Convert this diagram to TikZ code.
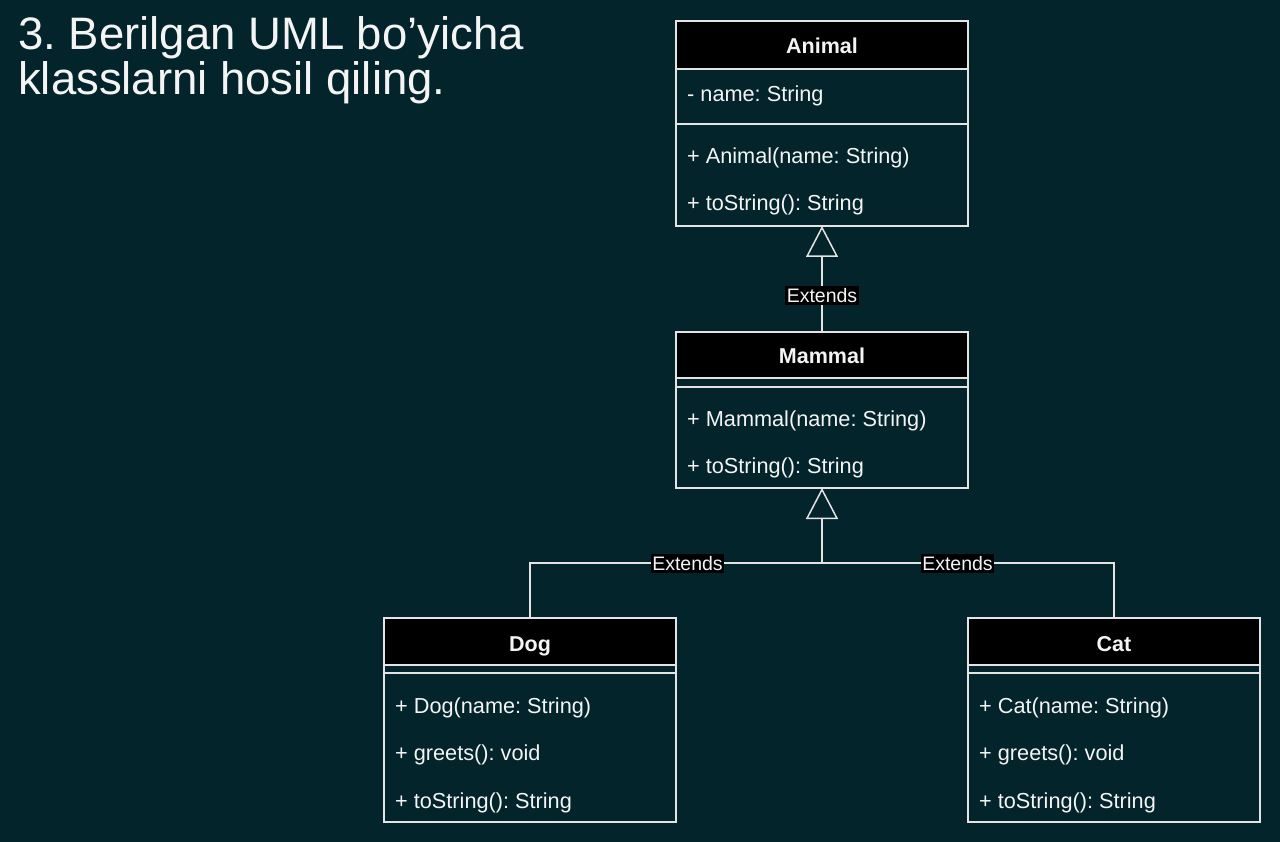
\documentclass[tikz,border=0pt]{standalone}
\usepackage{fontspec}
\setmainfont{Liberation Sans}
\usetikzlibrary{arrows.meta}
\definecolor{bg}{HTML}{02242A}
\definecolor{edge}{HTML}{E4E4E4}
\definecolor{ink}{HTML}{F4F4F4}
\frenchspacing

\begin{document}
\begin{tikzpicture}[x=1pt,y=-1pt,
  classbox/.style={draw=edge, line width=1.5pt, inner sep=0pt, outer sep=0pt, anchor=north west},
  rule/.style={draw=edge, line width=1.5pt},
  member/.style={anchor=base west, inner sep=0pt, text=ink, font=\fontsize{21.7}{24}\selectfont},
  classname/.style={anchor=base, inner sep=0pt, text=ink, font=\fontsize{21.5}{24}\selectfont\bfseries},
  heading/.style={anchor=base west, inner sep=0pt, text=ink, font=\fontsize{45.5}{46}\selectfont},
  inherit/.style={draw=edge, line width=1.5pt, -{Triangle[open, length=31pt, width=32pt, line width=1.5pt]}},
  tag/.style={fill=black, text=ink, inner xsep=1.5pt, inner ysep=2pt, font=\fontsize{19.5}{22}\selectfont}]

% canvas
\useasboundingbox (0,0) rectangle (1280,842);
\fill[bg] (0,0) rectangle (1280,842);

% task heading
\node[heading] (head1) at (18,49.5) {3. Berilgan UML bo’yicha};
\node[heading] (head2) at (18,95) {klasslarni hosil qiling.};

% ---- Animal ----
\fill[black] (676,21) rectangle (968,69);
\node[classbox, minimum width=292pt, minimum height=205pt] (animal) at (676,21) {};
\draw[rule] (676,69) -- (968,69);
\draw[rule] (676,124) -- (968,124);
\node[classname] (animalname) at (822,53.5) {Animal};
\node[member] (animalattr) at (687,102) {- name: String};
\node[member] (animalctor) at (687,164) {+ Animal(name: String)};
\node[member] (animalstr) at (687,211) {+ toString(): String};

% ---- Mammal ----
\fill[black] (676,332) rectangle (968,378);
\node[classbox, minimum width=292pt, minimum height=156pt] (mammal) at (676,332) {};
\draw[rule] (676,378) -- (968,378);
\draw[rule] (676,387) -- (968,387);
\node[classname] (mammalname) at (822,363.5) {Mammal};
\node[member] (mammalctor) at (687,426.5) {+ Mammal(name: String)};
\node[member] (mammalstr) at (687,473.5) {+ toString(): String};

% ---- Dog ----
\fill[black] (384,618) rectangle (676,665);
\node[classbox, minimum width=292pt, minimum height=204pt] (dog) at (384,618) {};
\draw[rule] (384,665) -- (676,665);
\draw[rule] (384,673) -- (676,673);
\node[classname] (dogname) at (530,651) {Dog};
\node[member] (dogctor) at (395,713.5) {+ Dog(name: String)};
\node[member] (doggreet) at (395,760.5) {+ greets(): void};
\node[member] (dogstr) at (395,808) {+ toString(): String};

% ---- Cat ----
\fill[black] (968,618) rectangle (1260,665);
\node[classbox, minimum width=292pt, minimum height=204pt] (cat) at (968,618) {};
\draw[rule] (968,665) -- (1260,665);
\draw[rule] (968,673) -- (1260,673);
\node[classname] (catname) at (1114,651) {Cat};
\node[member] (catctor) at (979,713.5) {+ Cat(name: String)};
\node[member] (catgreet) at (979,760.5) {+ greets(): void};
\node[member] (catstr) at (979,808) {+ toString(): String};

% ---- generalisations ----
\coordinate (split) at (822,563);
\draw[inherit] (mammal.north) -- (animal.south);
\draw[rule] (dog.north) |- (split);
\draw[rule] (cat.north) |- (split);
\draw[inherit] (split) -- (mammal.south);

\node[tag] (ext1) at (822,295.5) {Extends};
\node[tag] (ext2) at (687.5,563.5) {Extends};
\node[tag] (ext3) at (957.5,563.5) {Extends};
\end{tikzpicture}
\end{document}
